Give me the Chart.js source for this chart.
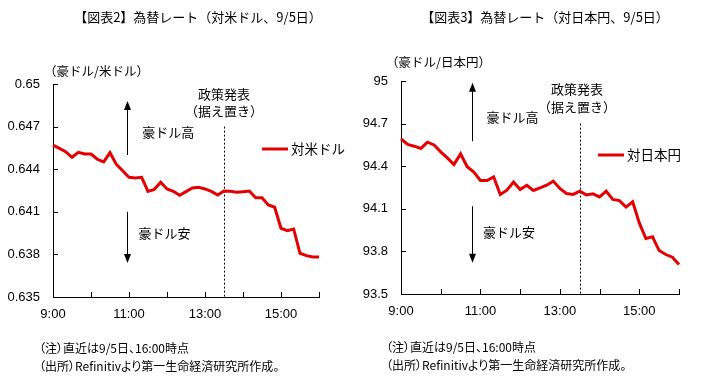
<!DOCTYPE html>
<html>
<head>
<meta charset="utf-8">
<script src="https://cdn.jsdelivr.net/npm/chart.js@4.4.0/dist/chart.umd.min.js"></script>
<style>
body { margin: 0; background: #fff; width: 704px; height: 378px; position: relative; overflow: hidden; font-family: "Noto Sans CJK JP", sans-serif; color: #000; }
.t { position: absolute; white-space: nowrap; line-height: 1; }
.note { font-size: 12px; font-feature-settings: "palt"; }
canvas { position: absolute; top: 0; }
</style>
</head>
<body>
<canvas id="usd" width="352" height="378" style="left:0"></canvas>
<canvas id="jpy" width="352" height="378" style="left:352px"></canvas>

<div class="t" style="left:198px;top:10px;font-size:13px;transform:translateX(-50%)">【図表2】為替レート（対米ドル、9/5日）</div>
<div class="t" style="left:545px;top:10px;font-size:13px;transform:translateX(-50%)">【図表3】為替レート（対日本円、9/5日）</div>

<div class="t" style="left:44px;top:65px;font-size:12.5px">（豪ドル/米ドル）</div>
<div class="t" style="left:386px;top:56px;font-size:12.5px">（豪ドル/日本円）</div>

<div class="t note" style="left:39px;top:342px">（注）直近は9/5日、16:00時点</div>
<div class="t note" style="left:39px;top:360px">（出所）Refinitivより第一生命経済研究所作成。</div>
<div class="t note" style="left:386px;top:341px">（注）直近は9/5日、16:00時点</div>
<div class="t note" style="left:386px;top:359px">（出所）Refinitivより第一生命経済研究所作成。</div>

<script>
// 10-minute steps, 9/5
const times = ['9:00','9:10','9:20','9:30','9:40','9:50',
  '10:00','10:10','10:20','10:30','10:40','10:50',
  '11:00','11:10','11:20','11:30','11:40','11:50',
  '12:00','12:10','12:20','12:30','12:40','12:50',
  '13:00','13:10','13:20','13:30','13:40','13:50',
  '14:00','14:10','14:20','14:30','14:40','14:50',
  '15:00','15:10','15:20','15:30','15:40','15:50',
  '16:00']
const xLabels = ['9:00','11:00','13:00','15:00']
const hourTicks = ['9:00','10:00','11:00','12:00','13:00','14:00','15:00','16:00']
const policyTime = '13:30'

// AUD/USD
const usdValues = [0.64570, 0.64547, 0.64523, 0.64484, 0.64519, 0.64507, 0.64507, 0.64470, 0.64451, 0.64516,
  0.64434, 0.64389, 0.64343, 0.64338, 0.64343, 0.64244, 0.64258, 0.64308, 0.64261, 0.64244,
  0.64216, 0.64242, 0.64268, 0.64273, 0.64261, 0.64244, 0.64218, 0.64246, 0.64244, 0.64237,
  0.64242, 0.64246, 0.64199, 0.64199, 0.64148, 0.64132, 0.63984, 0.63967, 0.63979, 0.63808,
  0.63791, 0.63782, 0.63782]
const usdTicks = [0.635, 0.638, 0.641, 0.644, 0.647, 0.65]

// AUD/JPY
const jpyValues = [94.593, 94.553, 94.541, 94.525, 94.569, 94.550, 94.501, 94.459, 94.412, 94.487,
  94.396, 94.358, 94.299, 94.299, 94.325, 94.201, 94.231, 94.288, 94.236, 94.266,
  94.229, 94.248, 94.266, 94.295, 94.243, 94.208, 94.201, 94.224, 94.198, 94.205,
  94.184, 94.224, 94.166, 94.158, 94.112, 94.149, 94.001, 93.891, 93.903, 93.806,
  93.778, 93.759, 93.708]
const jpyTicks = [93.5, 93.8, 94.1, 94.4, 94.7, 95]

const RED = 'rgb(228,0,0)'
const JP = '"Noto Sans CJK JP", sans-serif'

function arrow(ctx, x, yFrom, yTo) {
  const dir = yTo < yFrom ? -1 : 1
  ctx.beginPath()
  ctx.moveTo(x, yFrom)
  ctx.lineTo(x, yTo - dir * 8)
  ctx.stroke()
  ctx.beginPath()
  ctx.moveTo(x, yTo)
  ctx.lineTo(x - 3.5, yTo - dir * 9)
  ctx.lineTo(x + 3.5, yTo - dir * 9)
  ctx.closePath()
  ctx.fill()
}

const decor = {
  id: 'decor',
  beforeDatasetsDraw(chart, args, o) {
    const ctx = chart.ctx
    const a = chart.chartArea
    const x = chart.scales.x, y = chart.scales.y
    ctx.save()
    ctx.strokeStyle = '#000'
    ctx.fillStyle = '#000'
    ctx.lineWidth = 1

    // inward tick marks
    ctx.beginPath()
    o.yTicks.forEach(v => {
      const py = Math.round(y.getPixelForValue(v)) + 0.5
      ctx.moveTo(a.left, py)
      ctx.lineTo(a.left + 5, py)
    })
    hourTicks.forEach(t => {
      const px = Math.round(x.getPixelForValue(times.indexOf(t))) + 0.5
      ctx.moveTo(px, a.bottom)
      ctx.lineTo(px, a.bottom - 5)
    })
    ctx.stroke()

    // policy announcement
    const px = Math.round(x.getPixelForValue(times.indexOf(policyTime))) + 0.5
    ctx.setLineDash([2, 2])
    ctx.beginPath()
    ctx.moveTo(px, y.getPixelForValue(o.policyTop))
    ctx.lineTo(px, a.bottom)
    ctx.stroke()
    ctx.setLineDash([])

    ctx.font = '13px ' + JP
    ctx.textBaseline = 'middle'
    ctx.textAlign = 'center'
    ctx.fillText('政策発表', x.getPixelForValue(o.policyText[0]), y.getPixelForValue(o.policyText[1]))
    ctx.fillText('（据え置き）', x.getPixelForValue(o.policyText[0]), y.getPixelForValue(o.policyText[2]))

    // up / down arrows
    const ax = Math.round(x.getPixelForValue(o.arrowX)) + 0.5
    arrow(ctx, ax, y.getPixelForValue(o.up[0]), y.getPixelForValue(o.up[1]))
    arrow(ctx, ax, y.getPixelForValue(o.down[0]), y.getPixelForValue(o.down[1]))
    ctx.textAlign = 'left'
    ctx.fillText('豪ドル高', x.getPixelForValue(o.highText[0]), y.getPixelForValue(o.highText[1]))
    ctx.fillText('豪ドル安', x.getPixelForValue(o.lowText[0]), y.getPixelForValue(o.lowText[1]))

    // legend
    ctx.strokeStyle = RED
    ctx.lineWidth = 3
    ctx.beginPath()
    ctx.moveTo(o.legend.x, o.legend.y)
    ctx.lineTo(o.legend.x + 26, o.legend.y)
    ctx.stroke()
    ctx.font = '13.5px ' + JP
    ctx.fillText(chart.data.datasets[0].label, o.legend.x + 29, o.legend.y)
    ctx.restore()
  }
}

function makeChart(id, label, values, ticks, area, o) {
  new Chart(document.getElementById(id), {
    type: 'line',
    data: {
      labels: times,
      datasets: [{
        label: label,
        data: values,
        borderColor: RED,
        borderWidth: 3,
        pointRadius: 0,
        tension: 0,
        fill: false
      }]
    },
    options: {
      responsive: false,
      animation: false,
      devicePixelRatio: 1,
      layout: { padding: { left: 0, top: area.top, right: area.right, bottom: 0 } },
      plugins: { legend: { display: false }, tooltip: { enabled: false }, decor: o },
      scales: {
        x: {
          type: 'category',
          offset: false,
          grid: { display: false, drawTicks: false },
          border: { display: true, color: '#000', width: 1 },
          afterFit: s => { s.height = area.xh },
          ticks: {
            autoSkip: false,
            maxRotation: 0,
            padding: 10,
            color: '#000',
            font: { family: '"Liberation Sans", Arial, sans-serif', size: 13 },
            callback: (v, i) => xLabels.includes(times[i]) ? times[i] : ''
          }
        },
        y: {
          min: ticks[0],
          max: ticks[ticks.length - 1],
          grid: { display: false, drawTicks: false },
          border: { display: true, color: '#000', width: 1 },
          afterFit: s => { s.width = area.yw },
          afterBuildTicks: s => { s.ticks = ticks.map(v => ({ value: v })) },
          ticks: {
            padding: 13,
            color: '#000',
            font: { family: '"Liberation Sans", Arial, sans-serif', size: 13 },
            callback: v => String(v)
          }
        }
      }
    },
    plugins: [decor]
  })
}

makeChart('usd', '対米ドル', usdValues, usdTicks,
  { top: 84, right: 33, xh: 81, yw: 53 },
  { yTicks: usdTicks, policyTop: 0.647, policyText: [27, 0.6493, 0.6481],
    arrowX: 11.7, up: [0.645, 0.6488], down: [0.641, 0.6374],
    highText: [14.1, 0.64662], lowText: [13.5, 0.6395],
    legend: { x: 262, y: 149 } })

makeChart('jpy', '対日本円', jpyValues, jpyTicks,
  { top: 81, right: 25, xh: 84, yw: 49 },
  { yTicks: jpyTicks, policyTop: 94.7, policyText: [26.6, 94.94, 94.813],
    arrowX: 10.75, up: [94.576, 94.987], down: [94.118, 93.72],
    highText: [12.93, 94.743], lowText: [12.37, 93.933],
    legend: { x: 246, y: 155 } })
</script>
</body>
</html>
